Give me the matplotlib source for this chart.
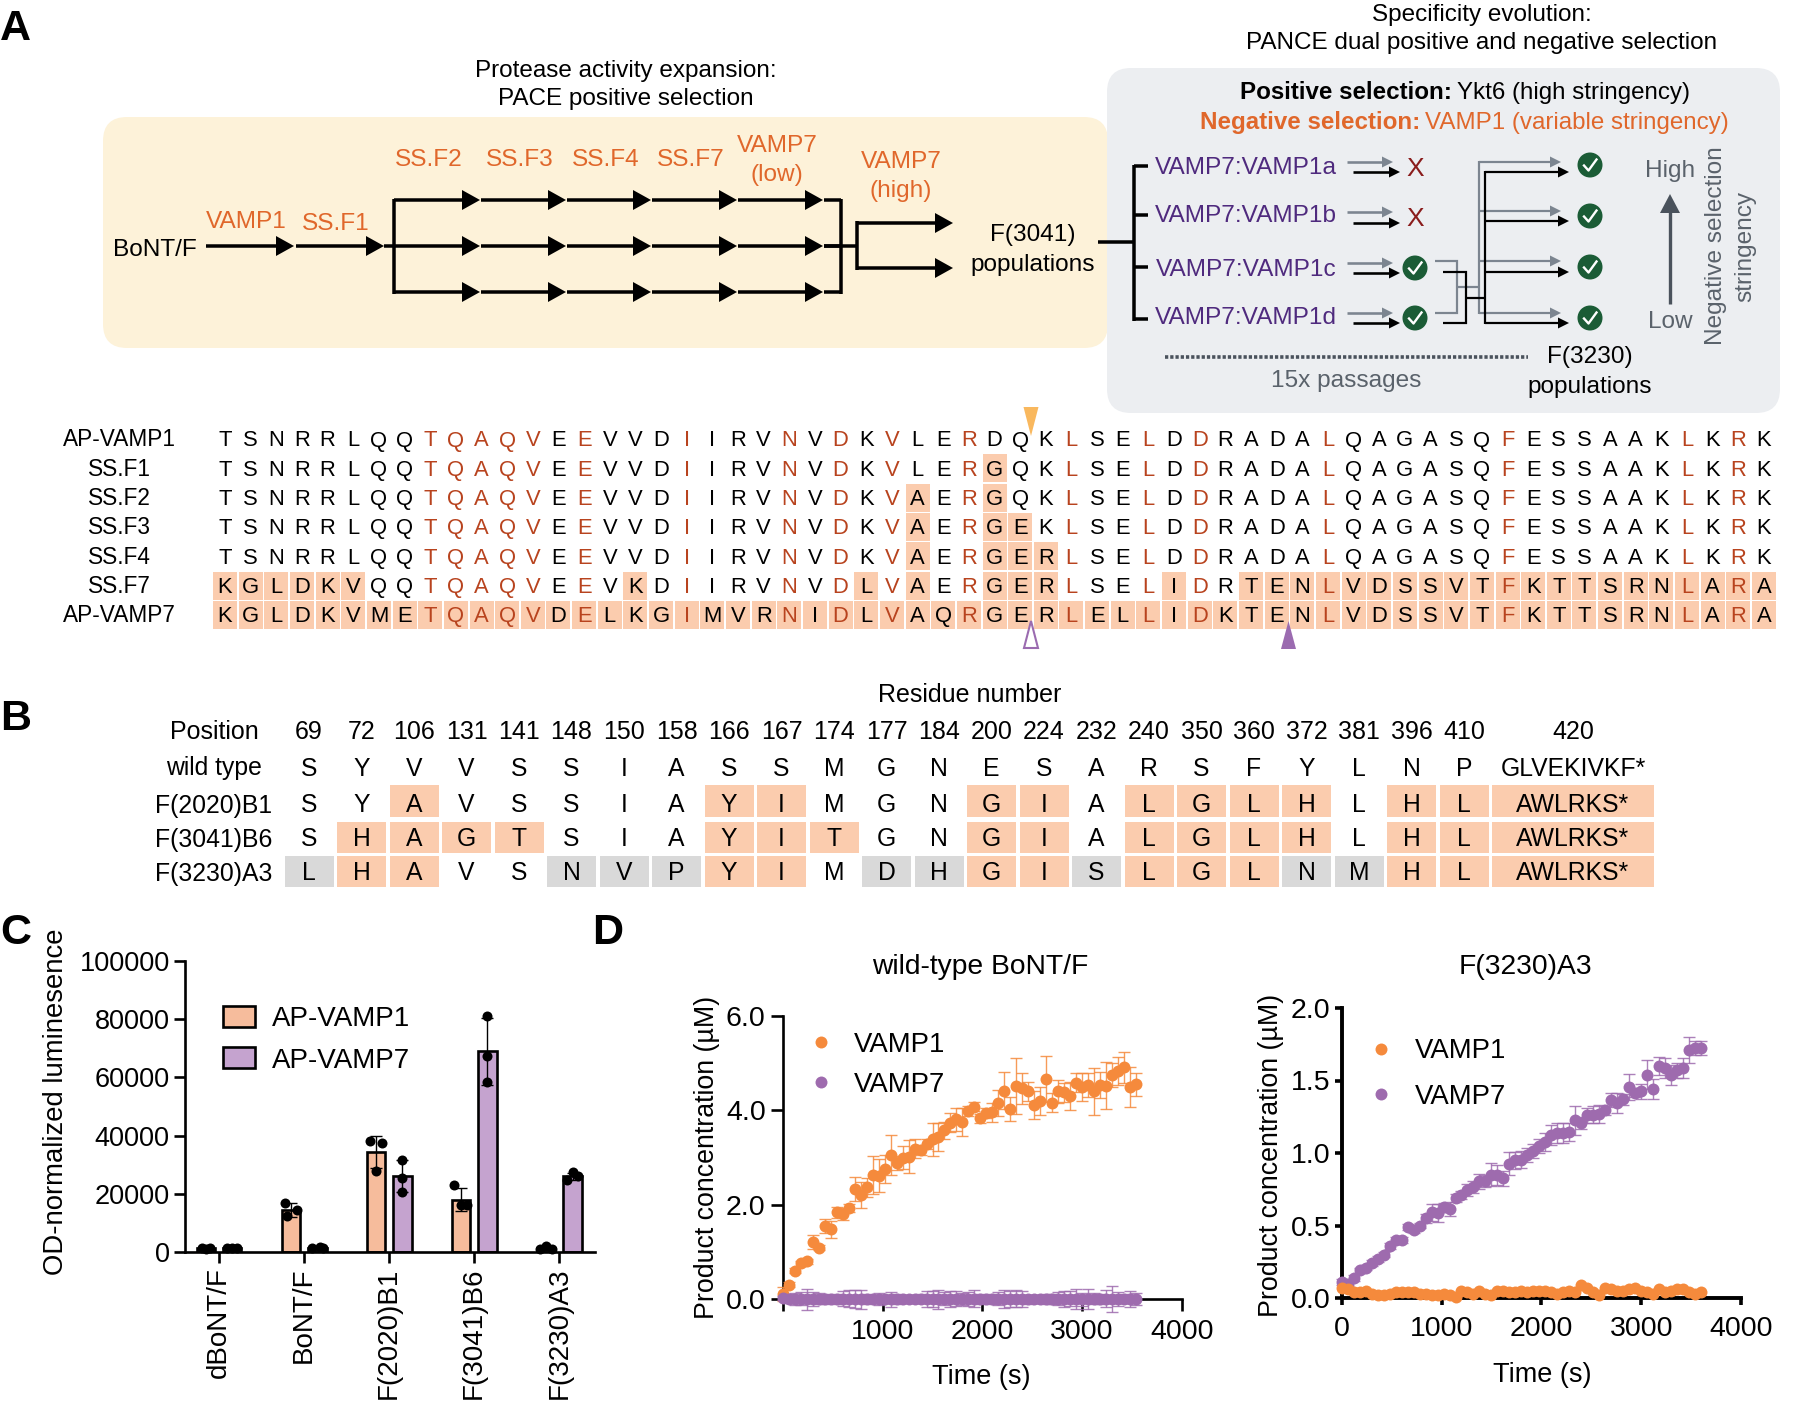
#!/usr/bin/env python3
# Panels A/B are drawn on a full-figure axes in pixel units, C/D on real axes.
import numpy as np
import matplotlib
matplotlib.use("Agg")
import matplotlib.pyplot as plt
from matplotlib.patches import FancyBboxPatch, Polygon, Circle, Rectangle

plt.rcParams["font.family"] = ["Liberation Sans", "DejaVu Sans"]

W, H = 1800, 1405
ORANGE_TXT = "#E0672B"
RESIDUE_ORANGE = "#B8431E"
PURPLE_TXT = "#4F2A7E"
GREY_ARROW = "#7C8590"
CELL = "#FBCCAE"
CELL_GREY = "#D9D9D9"

# ---- panel A sequences ----
seq_names = ["AP-VAMP1", "SS.F1", "SS.F2", "SS.F3", "SS.F4", "SS.F7", "AP-VAMP7"]
seq_rows = [
    "TSNRRLQQTQAQVEEVVDIIRVNVDKVLERDQKLSELDDRADALQAGASQFESSAAKLKRK",
    "TSNRRLQQTQAQVEEVVDIIRVNVDKVLERGQKLSELDDRADALQAGASQFESSAAKLKRK",
    "TSNRRLQQTQAQVEEVVDIIRVNVDKVAERGQKLSELDDRADALQAGASQFESSAAKLKRK",
    "TSNRRLQQTQAQVEEVVDIIRVNVDKVAERGEKLSELDDRADALQAGASQFESSAAKLKRK",
    "TSNRRLQQTQAQVEEVVDIIRVNVDKVAERGERLSELDDRADALQAGASQFESSAAKLKRK",
    "KGLDKVQQTQAQVEEVKDIIRVNVDLVAERGERLSELIDRTENLVDSSVTFKTTSRNLARA",
    "KGLDKVMETQAQVDELKGIMVRNIDLVAQRGERLELLIDKTENLVDSSVTFKTTSRNLARA",
]
seq_orange = [8, 9, 10, 11, 12, 14, 18, 22, 24, 26, 29, 33, 36, 38, 43, 50, 57, 59]
seq_marked = [
    [],
    [30],
    [27, 30],
    [27, 30, 31],
    [27, 30, 31, 32],
    [0, 1, 2, 3, 4, 5, 16, 25, 27, 30, 31, 32, 37] + list(range(40, 61)),
    list(range(61)),
]

# ---- panel B table ----
positions = ["69", "72", "106", "131", "141", "148", "150", "158", "166", "167", "174", "177",
             "184", "200", "224", "232", "240", "350", "360", "372", "381", "396", "410", "420"]
table_names = ["wild type", "F(2020)B1", "F(3041)B6", "F(3230)A3"]
table_rows = [
    ["S", "Y", "V", "V", "S", "S", "I", "A", "S", "S", "M", "G", "N", "E", "S", "A", "R", "S", "F", "Y", "L", "N", "P", "GLVEKIVKF*"],
    ["S", "Y", "A", "V", "S", "S", "I", "A", "Y", "I", "M", "G", "N", "G", "I", "A", "L", "G", "L", "H", "L", "H", "L", "AWLRKS*"],
    ["S", "H", "A", "G", "T", "S", "I", "A", "Y", "I", "T", "G", "N", "G", "I", "A", "L", "G", "L", "H", "L", "H", "L", "AWLRKS*"],
    ["L", "H", "A", "V", "S", "N", "V", "P", "Y", "I", "M", "D", "H", "G", "I", "S", "L", "G", "L", "N", "M", "H", "L", "AWLRKS*"],
]
table_peach = [
    [],
    [2, 8, 9, 13, 14, 16, 17, 18, 19, 21, 22, 23],
    [1, 2, 3, 4, 8, 9, 10, 13, 14, 16, 17, 18, 19, 21, 22, 23],
    [1, 2, 8, 9, 13, 14, 16, 17, 18, 21, 22, 23],
]
table_grey = [[], [], [], [0, 5, 6, 7, 11, 12, 15, 19, 20]]

# ---- panel C ----
constructs = ["dBoNT/F", "BoNT/F", "F(2020)B1", "F(3041)B6", "F(3230)A3"]
bar_vamp1 = [1300, 14500, 34500, 18000, 1500]
bar_vamp7 = [1400, 1500, 26000, 69000, 26000]
err_vamp1 = [200, 2500, 5500, 4000, 500]
err_vamp7 = [150, 300, 5500, 11500, 1300]
pts_vamp1 = [[1300, 1200, 1400], [17000, 12500, 14500], [38000, 37500, 28000],
             [23000, 16000, 16000], [1100, 2000, 1200]]
pts_vamp7 = [[1300, 1500, 1400], [1400, 1700, 1400], [31500, 25500, 20500],
             [81000, 67500, 58500], [24800, 27500, 26000]]
jit_vamp1 = [[-0.05, 0.0, 0.05], [-0.07, -0.05, 0.07], [-0.07, 0.07, 0.0],
             [-0.08, 0.0, 0.07], [-0.07, 0.0, 0.07]]
jit_vamp7 = [[-0.06, 0.0, 0.06], [-0.06, 0.03, 0.07], [0.0, 0.0, 0.0],
             [0.0, 0.0, 0.0], [-0.07, 0.0, 0.07]]

# ---- panel D, left: wild-type BoNT/F ----
time_left = [60 * i for i in range(60)]
wt_vamp1 = [0.10, 0.30, 0.60, 0.76, 0.80, 1.20, 1.09, 1.54, 1.48, 1.84, 1.80, 1.93, 2.33, 2.20, 2.37,
            2.63, 2.61, 2.76, 3.05, 2.88, 3.00, 3.02, 3.19, 3.16, 3.29, 3.39, 3.44, 3.58, 3.74, 3.81,
            3.75, 3.99, 4.08, 3.83, 3.94, 3.96, 4.16, 4.42, 4.03, 4.52, 4.47, 4.40, 4.11, 4.20, 4.66,
            4.16, 4.40, 4.38, 4.31, 4.59, 4.49, 4.54, 4.40, 4.54, 4.52, 4.75, 4.84, 4.91, 4.49, 4.55]
wt_vamp1_err = [0.15, 0.05, 0.05, 0.05, 0.05, 0.15, 0.05, 0.15, 0.18, 0.12, 0.12, 0.08, 0.25, 0.28, 0.20,
                0.40, 0.35, 0.30, 0.42, 0.15, 0.25, 0.35, 0.20, 0.10, 0.10, 0.35, 0.30, 0.18, 0.20, 0.25,
                0.30, 0.10, 0.10, 0.10, 0.10, 0.20, 0.28, 0.40, 0.25, 0.60, 0.33, 0.20, 0.30, 0.30, 0.49,
                0.20, 0.25, 0.20, 0.30, 0.20, 0.30, 0.25, 0.50, 0.28, 0.50, 0.25, 0.30, 0.33, 0.42, 0.25]
wt_vamp7 = [0.02, 0.01, 0.00, 0.01, -0.01, 0.00, 0.01, 0.00, -0.01, 0.00, 0.01, 0.01, 0.00, -0.01, 0.00,
            0.01, 0.00, 0.00, -0.01, 0.00, 0.01, 0.00, 0.00, 0.01, 0.00, 0.00, -0.01, 0.01, 0.00, 0.01,
            0.00, 0.00, 0.01, 0.00, -0.01, 0.00, 0.01, 0.00, 0.00, 0.01, 0.00, -0.01, 0.00, 0.01, 0.00,
            0.00, 0.01, 0.00, 0.01, 0.00, -0.01, 0.00, 0.01, 0.00, 0.01, 0.00, 0.00, 0.01, 0.00, 0.00]
wt_vamp7_err = [0.05, 0.10, 0.12, 0.14, 0.22, 0.14, 0.12, 0.10, 0.08, 0.10, 0.16, 0.18, 0.20, 0.20, 0.10,
                0.08, 0.12, 0.08, 0.16, 0.10, 0.08, 0.06, 0.08, 0.10, 0.16, 0.18, 0.20, 0.14, 0.18, 0.15,
                0.12, 0.14, 0.18, 0.10, 0.08, 0.10, 0.14, 0.20, 0.18, 0.18, 0.16, 0.10, 0.08, 0.06, 0.10,
                0.10, 0.14, 0.18, 0.16, 0.22, 0.14, 0.22, 0.12, 0.10, 0.18, 0.28, 0.14, 0.10, 0.16, 0.12]

# ---- panel D, right: F(3230)A3 ----
time_right = [60 * i for i in range(61)]
a3_vamp7 = [0.11, 0.10, 0.14, 0.19, 0.21, 0.24, 0.27, 0.30, 0.36, 0.40, 0.40, 0.49, 0.47, 0.50, 0.55,
            0.59, 0.585, 0.625, 0.615, 0.69, 0.71, 0.745, 0.765, 0.805, 0.805, 0.85, 0.85, 0.825, 0.925, 0.95,
            0.955, 0.985, 1.015, 1.05, 1.075, 1.125, 1.14, 1.14, 1.145, 1.225, 1.205, 1.26, 1.265, 1.27, 1.295,
            1.365, 1.345, 1.37, 1.455, 1.415, 1.425, 1.54, 1.44, 1.60, 1.585, 1.54, 1.57, 1.585, 1.71, 1.725, 1.725]
a3_vamp7_err = [0.02, 0.02, 0.02, 0.02, 0.02, 0.02, 0.02, 0.02, 0.02, 0.02, 0.02, 0.02, 0.02, 0.02, 0.03,
                0.06, 0.06, 0.03, 0.05, 0.03, 0.03, 0.04, 0.04, 0.05, 0.04, 0.08, 0.07, 0.05, 0.08, 0.06,
                0.06, 0.05, 0.05, 0.05, 0.06, 0.07, 0.07, 0.07, 0.06, 0.10, 0.04, 0.05, 0.06, 0.06, 0.03,
                0.05, 0.07, 0.04, 0.09, 0.03, 0.05, 0.10, 0.07, 0.06, 0.07, 0.07, 0.05, 0.07, 0.09, 0.05, 0.05]
a3_vamp1 = [0.07, 0.06, 0.04, 0.04, 0.05, 0.03, 0.02, 0.02, 0.03, 0.04, 0.04, 0.04, 0.04, 0.03, 0.03,
            0.02, 0.02, 0.03, 0.02, 0.01, 0.05, 0.04, 0.03, 0.05, 0.03, 0.02, 0.05, 0.05, 0.04, 0.04,
            0.05, 0.04, 0.05, 0.05, 0.05, 0.04, 0.03, 0.04, 0.05, 0.04, 0.09, 0.07, 0.04, 0.02, 0.07,
            0.06, 0.05, 0.05, 0.06, 0.07, 0.05, 0.04, 0.03, 0.06, 0.04, 0.05, 0.06, 0.06, 0.04, 0.03, 0.04]


fig = plt.figure(figsize=(W / 100, H / 100), dpi=100, facecolor="white")
bg = fig.add_axes([0, 0, 1, 1])
bg.set_xlim(0, W)
bg.set_ylim(H, 0)
bg.axis("off")


def label(x, y, s, size=17.6, color="black", ha="center", va="center", rotation=0, **kw):
    # text sits a touch low against its box centre in the reference
    dy = 2.5 if rotation == 0 else 0
    return bg.text(x, y + dy, s, fontsize=size, color=color, ha=ha, va=va, rotation=rotation, **kw)


def seg(xs, ys, color="black", lw=3.5, **kw):
    bg.plot(xs, ys, color=color, lw=lw * 0.72, solid_capstyle="butt", solid_joinstyle="miter", **kw)


def arrow(x0, x1, y, color="black", lw=3.5, head=18, half=10):
    seg([x0, x1 - head + 1], [y, y], color, lw)
    bg.add_patch(Polygon([[x1, y], [x1 - head, y - half], [x1 - head, y + half]], fc=color, ec="none"))


def check(x, y, r=12.5):
    bg.add_patch(Circle((x, y), r, fc="#1B5C36", ec="none"))
    bg.plot([x - 6, x - 1.5, x + 6.5], [y + 0.5, y + 5.5, y - 5.5], color="white", lw=1.7)


def rounded(x0, y0, x1, y1, r, color):
    bg.add_patch(FancyBboxPatch((x0, y0), x1 - x0, y1 - y0, boxstyle=f"round,pad=0,rounding_size={r}",
                                fc=color, ec="none"))


# ---- A: boxes ----
rounded(103, 117, 1108, 348, 24, "#FDF2D9")
rounded(1107, 68, 1780, 413, 24, "#ECEEF1")

label(626, 68, "Protease activity expansion:", size=17.5)
label(626, 97, "PACE positive selection", size=17.5)
label(1482, 13, "Specificity evolution:", size=17.5)
label(1482, 41, "PANCE dual positive and negative selection", size=17.5)

# ---- A: PACE tree ----
label(155, 247, "BoNT/F")
arrow(206, 294, 246)
arrow(296, 384, 246)
seg([384, 394], [246, 246])
seg([394, 394], [198.5, 293.5])
pace_y = [200, 246, 292]
pace_tips = [480, 566, 651, 737, 823]
pace_starts = [394, 481, 567, 652, 738]
for py in pace_y:
    for x0, x1 in zip(pace_starts, pace_tips):
        arrow(x0, x1, py)
    seg([824, 841], [py, py])
seg([841, 841], [198.5, 293.5])
seg([824, 857], [246, 246])
seg([857, 857], [221, 270])
arrow(857, 953, 223)
arrow(857, 953, 268)

pace_labels = [(246, 219, "VAMP1"), (336, 222, "SS.F1"), (429, 157, "SS.F2"), (520, 157, "SS.F3"),
               (606, 157, "SS.F4"), (691, 157, "SS.F7"), (777, 143, "VAMP7"), (777, 173, "(low)"),
               (901, 159, "VAMP7"), (901, 189, "(high)")]
for x, y, s in pace_labels:
    label(x, y, s, color=ORANGE_TXT)
label(1033, 233, "F(3041)")
label(1033, 262, "populations")

# ---- A: PANCE tree ----
t = label(1240, 90, "Positive selection: ", size=17.4, ha="left", fontweight="bold")
rend = fig.canvas.get_renderer()
label(t.get_window_extent(rend).x1 - 2, 90, "Ykt6 (high stringency)", size=17.4, ha="left")
t = label(1200, 120, "Negative selection: ", size=17.4, ha="left", fontweight="bold", color=ORANGE_TXT)
label(t.get_window_extent(rend).x1 - 2, 120, "VAMP1 (variable stringency)", size=17.4, ha="left", color=ORANGE_TXT)

seg([1098, 1134], [242, 242])
seg([1134, 1134], [164.5, 320.5])
pance_names = ["VAMP7:VAMP1a", "VAMP7:VAMP1b", "VAMP7:VAMP1c", "VAMP7:VAMP1d"]
branch_y = [166, 215, 267, 319]
name_y = [166, 214, 267, 316]
for by, ny, s in zip(branch_y, name_y, pance_names):
    seg([1134, 1148], [by, by])
    label(1246, ny, s, color=PURPLE_TXT)

grey_y = [162, 212, 263, 313]
black_y = [172, 223, 273, 323]
for gy, ky in zip(grey_y, black_y):
    arrow(1347, 1393, gy, GREY_ARROW, 2.6, 11, 5.5)
    arrow(1353, 1400, ky, "black", 2.6, 11, 5.5)
label(1415, 166, "X", size=19, color="#8A1C1C")
label(1415, 217, "X", size=19, color="#8A1C1C")
check(1415, 268)
check(1415, 318)

seg([1435, 1457, 1457, 1435], [261, 261, 313, 313], GREY_ARROW, 2.2)
seg([1457, 1479], [287, 287], GREY_ARROW, 2.2)
seg([1479, 1479], [161, 314], GREY_ARROW, 2.2)
for gy in [162, 211, 261, 313]:
    arrow(1479, 1561, gy, GREY_ARROW, 2.2, 11, 5.5)
seg([1443, 1465.5, 1465.5, 1443], [272, 272, 323, 323], "black", 2.2)
seg([1465.5, 1485], [298, 298], "black", 2.2)
seg([1485, 1485], [171, 324], "black", 2.2)
for ky in [172, 221, 272, 323]:
    arrow(1485, 1569, ky, "black", 2.2, 11, 5.5)
for cy in [165, 216, 267, 318]:
    check(1590, cy)

bg.plot([1165, 1528], [357, 357], color="#4A525C", lw=2.6, dashes=(0.9, 0.55))
label(1346, 379, "15x passages", color="#5A626B")
label(1590, 355, "F(3230)")
label(1590, 384, "populations")
label(1670, 168, "High", color="#5A626B")
label(1670, 319, "Low", color="#5A626B")
bg.plot([1670, 1670], [304, 212], color="#4A525C", lw=2.4, solid_capstyle="butt")
bg.add_patch(Polygon([[1670, 194], [1660, 213], [1680, 213]], fc="#4A525C", ec="none"))
label(1716, 246, "Negative selection", color="#5A626B", rotation=90)
label(1745, 246, "stringency", color="#5A626B", rotation=90)

# ---- A: alignment ----
SEQ_X0, SEQ_DX = 225, 25.65
SEQ_Y0, SEQ_DY = 438.5, 29.3
for r, (name, row) in enumerate(zip(seq_names, seq_rows)):
    y = SEQ_Y0 + SEQ_DY * r
    label(119, y - 1, name, size=16.3)
    for c in seq_marked[r]:
        bg.add_patch(Rectangle((SEQ_X0 + SEQ_DX * c - 12, y - 13.5), 24, 28, fc=CELL, ec="none"))
    for c, ch in enumerate(row):
        col = RESIDUE_ORANGE if c in seq_orange else "black"
        label(SEQ_X0 + SEQ_DX * c, y, ch, size=15.8, color=col)

bg.add_patch(Polygon([[1031, 436], [1023.5, 407], [1038.5, 407]], fc="#F9B85E", ec="none"))
bg.add_patch(Polygon([[1031, 621], [1024, 648], [1038, 648]], fc="white", ec="#9B6BB0", lw=1.5))
bg.add_patch(Polygon([[1288.5, 621], [1281, 649], [1296, 649]], fc="#9B6BB0", ec="none"))

# ---- B: table ----
TAB_X0, TAB_DX = 309, 52.5
LAST_X = 1573
table_y = [766, 803, 837, 871]
cell_y = [None, (785, 817), (822, 853), (856, 887)]
label(970, 692.5, "Residue number", size=18)
label(214, 729.5, "Position", size=18)
for i, p in enumerate(positions):
    x = LAST_X if i == 23 else TAB_X0 + TAB_DX * i
    label(x, 729.5, p, size=18)
for r, (name, row) in enumerate(zip(table_names, table_rows)):
    y = table_y[r]
    label(214, y, name, size=17.8)
    for i, ch in enumerate(row):
        x = LAST_X if i == 23 else TAB_X0 + TAB_DX * i
        if cell_y[r]:
            c = CELL if i in table_peach[r] else (CELL_GREY if i in table_grey[r] else None)
            if c:
                half = 81 if i == 23 else 24.5
                bg.add_patch(Rectangle((x - half, cell_y[r][0]), 2 * half, cell_y[r][1] - cell_y[r][0], fc=c, ec="none"))
        label(x, y, ch, size=17.8)

# ---- panel letters ----
label(0, 27, "A", size=31, ha="left", fontweight="bold")
label(0, 716, "B", size=31, ha="left", fontweight="bold")
label(0, 931, "C", size=31, ha="left", fontweight="bold")
label(592, 931, "D", size=31, ha="left", fontweight="bold")


def px_axes(left, right, top, bottom):
    ax = fig.add_axes([left / W, 1 - bottom / H, (right - left) / W, (bottom - top) / H])
    ax.patch.set_alpha(0)
    ax.spines["top"].set_visible(False)
    ax.spines["right"].set_visible(False)
    return ax


# ---- C: bars ----
axc = px_axes(185, 595, 961, 1252)
xg = np.arange(len(constructs))
off = 0.156
bw = 0.215
axc.bar(xg - off, bar_vamp1, bw, color="#F6BC9C", edgecolor="black", linewidth=1.9)
axc.bar(xg + off, bar_vamp7, bw, color="#C5A3CF", edgecolor="black", linewidth=1.9)
axc.errorbar(xg - off, bar_vamp1, yerr=err_vamp1, fmt="none", ecolor="black", elinewidth=1.0, capsize=4.5, capthick=1.0)
axc.errorbar(xg + off, bar_vamp7, yerr=err_vamp7, fmt="none", ecolor="black", elinewidth=1.0, capsize=4.5, capthick=1.0)
for i in xg:
    axc.plot(i - off + np.array(jit_vamp1[i]), pts_vamp1[i], "o", color="black", ms=7.2, mew=0, clip_on=False)
    axc.plot(i + off + np.array(jit_vamp7[i]), pts_vamp7[i], "o", color="black", ms=7.2, mew=0, clip_on=False)
axc.set_xlim(-0.4, 4.42)
axc.set_ylim(0, 100000)
axc.set_yticks([0, 20000, 40000, 60000, 80000, 100000])
axc.set_xticks(xg)
axc.set_xticklabels(constructs, rotation=90)
axc.tick_params(axis="y", labelsize=19.5, width=1.9, length=8, pad=3)
axc.tick_params(axis="x", labelsize=20, width=1.9, length=8, pad=3)
for s in ["left", "bottom"]:
    axc.spines[s].set_linewidth(1.9)
label(56, 1102, "OD-normalized luminesence", size=19.8, rotation=90)

bg.add_patch(Rectangle((223, 1006), 32, 21, fc="#F6BC9C", ec="black", lw=1.9))
bg.add_patch(Rectangle((223, 1047), 32, 21, fc="#C5A3CF", ec="black", lw=1.9))
label(272, 1017, "AP-VAMP1", size=20, ha="left")
label(272, 1058, "AP-VAMP7", size=20, ha="left")

# ---- D: time courses ----
P_ORANGE = "#F58A3C"
P_PURPLE = "#9E6BAE"


def course(ax, t, y, e, color, z):
    ax.errorbar(t, y, yerr=e, fmt="none", ecolor=color, elinewidth=1.0, capsize=4.5, capthick=1.0,
                alpha=0.85, clip_on=False, zorder=z)
    ax.plot(t, y, "o", color=color, ms=8.6, mew=0, clip_on=False, zorder=z + 0.1)


axl = px_axes(783, 1181.7, 1016, 1299)
course(axl, time_left, wt_vamp1, wt_vamp1_err, P_ORANGE, 3)
course(axl, time_left, wt_vamp7, wt_vamp7_err, P_PURPLE, 4)
axl.set_xlim(0, 4000)
axl.set_ylim(0, 6)
axl.set_xticks([0, 1000, 2000, 3000, 4000])
axl.set_xticklabels(["", "1000", "2000", "3000", "4000"])
axl.set_yticks([0, 2, 4, 6])
axl.set_yticklabels(["0.0", "2.0", "4.0", "6.0"])
axl.tick_params(labelsize=20.5, width=1.9, length=8.5, pad=4)
axl.tick_params(axis="x", pad=6)
for s in ["left", "bottom"]:
    axl.spines[s].set_linewidth(1.9)

axr = px_axes(1341.7, 1741, 1008, 1298)
course(axr, time_right, a3_vamp7, a3_vamp7_err, P_PURPLE, 3)
axr.plot(time_right, a3_vamp1, "o", color=P_ORANGE, ms=8.6, mew=0, clip_on=False, zorder=4)
axr.set_xlim(0, 4000)
axr.set_ylim(0, 2)
axr.set_xticks([0, 1000, 2000, 3000, 4000])
axr.set_yticks([0, 0.5, 1.0, 1.5, 2.0])
axr.set_yticklabels(["0.0", "0.5", "1.0", "1.5", "2.0"])
axr.tick_params(labelsize=20.5, width=2.6, length=5, pad=3)
axr.tick_params(axis="x", pad=8)
for s in ["left", "bottom"]:
    axr.spines[s].set_linewidth(2.8)

label(980, 965, "wild-type BoNT/F", size=20.3)
label(1525, 965, "F(3230)A3", size=20.3)
label(981, 1374, "Time (s)", size=19.5)
label(1542, 1373, "Time (s)", size=19.5)
label(707, 1157, "Product concentration (µM)", size=19.3, rotation=90)
label(1271, 1155, "Product concentration (µM)", size=19.3, rotation=90)

bg.plot([821], [1042], "o", color=P_ORANGE, ms=8.6, mew=0)
bg.plot([821], [1082], "o", color=P_PURPLE, ms=8.6, mew=0)
label(854, 1042, "VAMP1", size=19.8, ha="left")
label(854, 1082, "VAMP7", size=19.8, ha="left")
bg.plot([1381], [1049], "o", color=P_ORANGE, ms=8.6, mew=0)
bg.plot([1381], [1094], "o", color=P_PURPLE, ms=8.6, mew=0)
label(1415, 1049, "VAMP1", size=19.8, ha="left")
label(1415, 1094, "VAMP7", size=19.8, ha="left")

fig.savefig("out.png", dpi=100)
